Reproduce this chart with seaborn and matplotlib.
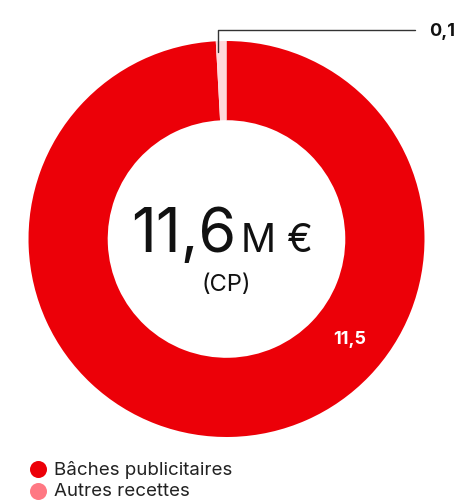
import matplotlib
matplotlib.use("Agg")
import matplotlib.pyplot as plt
import seaborn as sns

# données
categories = ["Bâches publicitaires", "Autres recettes"]
values = [11.5, 0.1]
labels = ["11,5", "0,1"]
wedge_colors = ["#EC0008", "#FFD8DB"]
legend_colors = ["#EC0008", "#FF7883"]
total_label = "11,6"

sns.set_theme(style="white")
plt.rcParams["font.family"] = ["Inter", "DejaVu Sans"]

fig = plt.figure(figsize=(4.65, 5.02), dpi=100)

# donut
ax = fig.add_axes([0.0613, 0.1275, 0.8516, 0.7888])
ax.pie(values, colors=wedge_colors, startangle=90, counterclock=False,
       radius=1, wedgeprops=dict(width=0.4, linewidth=0))
ax.set_xlim(-1, 1)
ax.set_ylim(-1, 1)
ax.set_aspect("equal")
ax.axis("off")

# calque pour les textes (coordonnées en pixels)
ov = fig.add_axes([0, 0, 1, 1], facecolor="none")
ov.set_xlim(0, 465)
ov.set_ylim(502, 0)
ov.axis("off")

ov.text(236, 252, total_label, fontsize=44, ha="right",
        va="baseline", color="#111111")
ov.text(241, 252, "M €", fontsize=28, ha="left",
        va="baseline", color="#111111")
ov.text(226, 291, "(CP)", fontsize=17, ha="center", va="baseline", color="#111111")

ov.text(350, 344, labels[0], fontsize=13, fontweight="bold", ha="center",
        va="baseline", color="white")
ov.plot([218, 218, 415], [53, 31, 31], color="#333333", lw=1)
ov.text(429, 36, labels[1], fontsize=13, fontweight="bold", ha="left",
        va="baseline", color="#111111")

# légende
for i, (name, c) in enumerate(zip(categories, legend_colors)):
    y = 470 + i * 22
    ov.scatter([38], [y], s=150, color=c, linewidths=0)
    ov.text(54, y, name, fontsize=13.5, ha="left", va="center", color="#222222")

fig.savefig("out.png", dpi=100)
